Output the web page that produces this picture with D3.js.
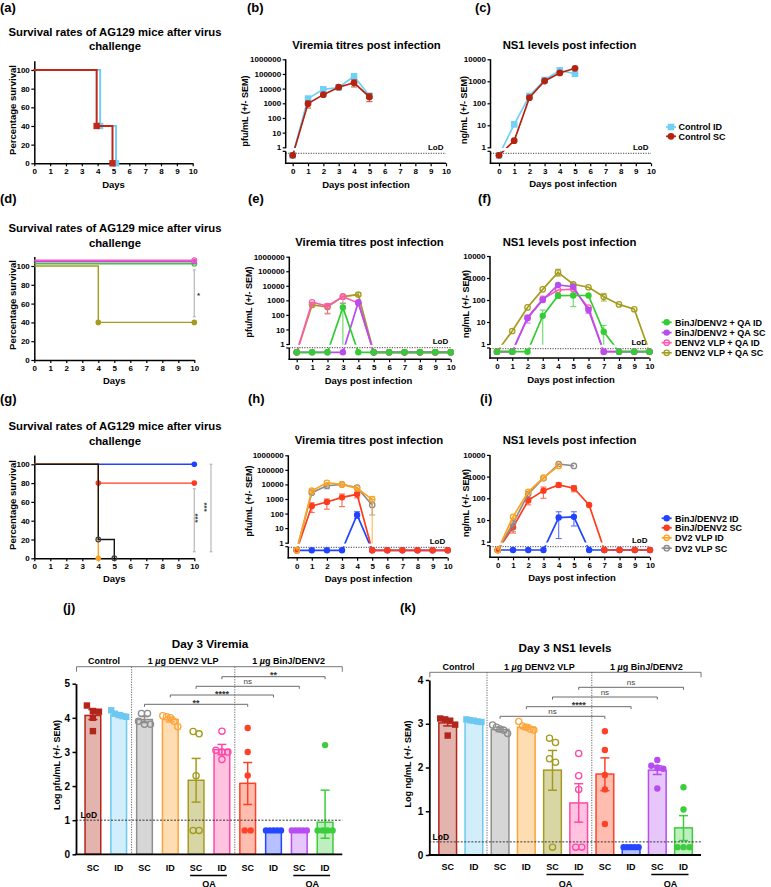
<!DOCTYPE html>
<html><head><meta charset="utf-8">
<script src="https://cdn.jsdelivr.net/npm/d3@7"></script>
<style>body{margin:0;background:#fff;overflow:hidden}</style>
</head><body><script>
// ================= DATA =================
const dayTicks = [0,1,2,3,4,5,6,7,8,9,10];
// 0 = below limit of detection (plotted under the axis break)

// (a) survival, control groups
const survA_ID_days = [0, 4, 5];
const survA_ID_pct  = [100, 40, 0];
const survA_SC_days = [0, 4, 5];
const survA_SC_pct  = [100, 40, 0];

// (b) viremia pfu/mL, days 0-5
const virB_ID    = [0, 2100, 9000, 12000, 70000, 3300];
const virB_SC    = [0, 950, 3900, 12500, 25000, 2700];
const virB_SC_lo = [null, 480, null, null, 13000, 1300];
const virB_SC_hi = [null, 1400, null, null, 40000, 4500];

// (c) NS1 ng/mL, days 0-5
const ns1C_ID = [0, 11, 215, 1150, 3150, 2200];
const ns1C_SC = [0, 2, 180, 1030, 2400, 3900];

// (d) survival, QA-adjuvanted groups
const survD_BinJ_QA_ID_days = [0, 10], survD_BinJ_QA_ID_pct = [100, 100];
const survD_BinJ_QA_SC_days = [0, 10], survD_BinJ_QA_SC_pct = [100, 100];
const survD_VLP_QA_ID_days  = [0, 10], survD_VLP_QA_ID_pct  = [100, 100];
const survD_VLP_QA_SC_days  = [0, 4, 10], survD_VLP_QA_SC_pct = [100, 40, 40];

// (e) viremia pfu/mL, days 0-10
const virE_BinJ_QA_ID = [0,0,0,330,0,0,0,0,0,0,0];
const virE_BinJ_QA_ID_lo = [null,null,null,0];
const virE_BinJ_QA_ID_hi = [null,null,null,620];
const virE_BinJ_QA_SC = [0,0,0,0,740,0,0,0,0,0,0];
const virE_BinJ_QA_SC_lo = [null,null,null,null,600];
const virE_BinJ_QA_SC_hi = [null,null,null,null,900];
const virE_VLP_QA_ID = [0,740,410,1800,650,0,0,0,0,0,0];
const virE_VLP_QA_ID_lo = [null,null,115,650];
const virE_VLP_QA_ID_hi = [null,null,550,2200];
const virE_VLP_QA_SC = [0,480,350,1800,2500,0,0,0,0,0,0];
const virE_VLP_QA_SC_lo = [null,380,130,null,2000];
const virE_VLP_QA_SC_hi = [null,650,600,null,3300];

// (f) NS1 ng/mL, days 0-10
const ns1F_BinJ_QA_ID = [0,0,0,19,157,160,160,3.6,0,0,0];
const ns1F_BinJ_QA_ID_lo = [null,null,null,0,120,50,null,0];
const ns1F_BinJ_QA_ID_hi = [null,null,null,35,190,200,null,7];
const ns1F_BinJ_QA_SC = [0,0,15,100,480,400,35,0,0,0,0];
const ns1F_BinJ_QA_SC_lo = [null,null,9,null,null,null,25];
const ns1F_BinJ_QA_SC_hi = [null,null,20,null,null,null,45];
const ns1F_VLP_QA_ID = [0,0,16,110,285,315,45,0,0,0,0];
const ns1F_VLP_QA_ID_lo = [null,null,null,80];
const ns1F_VLP_QA_ID_hi = [null,null,null,150];
const ns1F_VLP_QA_SC = [0,3.9,46,305,1800,520,380,140,63,38,0];
const ns1F_VLP_QA_SC_lo = [null,null,null,null,1200,150,null,90];
const ns1F_VLP_QA_SC_hi = [null,null,null,null,2500,600,null,200];

// (g) survival, BinJ/DENV2 vs DV2 VLP
const survG_BinJ_ID_days = [0, 10],    survG_BinJ_ID_pct = [100, 100];
const survG_BinJ_SC_days = [0, 4, 10], survG_BinJ_SC_pct = [100, 80, 80];
const survG_VLP_ID_days  = [0, 4],     survG_VLP_ID_pct  = [100, 0];
const survG_VLP_SC_days  = [0, 4, 5],  survG_VLP_SC_pct  = [100, 20, 0];

// (h) viremia pfu/mL
const virH_BinJ_ID = [0,0,0,0,80,0,0,0,0,0,0];
const virH_BinJ_ID_lo = [null,null,null,null,47];
const virH_BinJ_ID_hi = [null,null,null,null,135];
const virH_BinJ_SC = [0,330,620,1300,2100,0,0,0,0,0,0];
const virH_BinJ_SC_lo = [null,120,200,300,1200];
const virH_BinJ_SC_hi = [null,550,1000,2200,3000];
const virH_VLP_SC = [0,2700,8100,10000,6000,390];
const virH_VLP_SC_lo = [null,null,5000,null,null,80];
const virH_VLP_SC_hi = [null,null,10000,null,null,900];
const virH_VLP_ID = [0,3700,13000,10000,5400,950];
const virH_VLP_ID_lo = [null,null,null,null,null,0];
const virH_VLP_ID_hi = [null,null,null,null,null,1500];

// (i) NS1 ng/mL
const ns1I_BinJ_ID = [0,0,0,0,13,14,0,0,0,0,0];
const ns1I_BinJ_ID_lo = [null,null,null,null,1.4,5.3];
const ns1I_BinJ_ID_hi = [null,null,null,null,24,24];
const ns1I_BinJ_SC = [0,4.6,80,225,410,290,49,0,0,0,0];
const ns1I_BinJ_SC_lo = [null,2.5,50,100,330,200];
const ns1I_BinJ_SC_hi = [null,7,110,330,510,380];
const ns1I_VLP_SC = [0,7,160,840,3800,3100];
const ns1I_VLP_SC_lo = [null,3];
const ns1I_VLP_SC_hi = [null,12];
const ns1I_VLP_ID = [0,14,200,890,3100];

// (j) Day 3 viremia (log pfu/mL)
const barCats = ['SC','ID','SC','ID','SC','ID','SC','ID','SC','ID'];
const groupNames = ['Control', '1 µg DENV2 VLP', '1 µg BinJ/DENV2'];
const vir3Mean = [4.07, 4.10, 3.95, 3.95, 2.17, 3.07, 2.08, 0.70, 0.70, 0.94];
const vir3Lo   = [3.95, 4.05, 3.86, 3.88, 1.53, 2.92, 1.46, 0.70, 0.70, 0.47];
const vir3Hi   = [4.24, 4.15, 4.04, 4.02, 2.81, 3.22, 2.69, 0.70, 0.70, 1.88];
const vir3Pts  = [
  [4.36, 4.20, 4.18, 4.00, 3.61],
  [4.22, 4.12, 4.08, 4.05, 4.03],
  [4.13, 4.13, 3.90, 3.81, 3.81],
  [4.06, 4.03, 4.00, 3.90, 3.74],
  [3.60, 3.53, 2.30, 0.70, 0.70],
  [3.61, 3.05, 3.00, 3.00, 2.78],
  [3.70, 3.00, 2.31, 0.70, 0.70],
  [0.70, 0.70, 0.70, 0.70, 0.70],
  [0.70, 0.70, 0.70, 0.70, 0.70],
  [3.20, 0.70, 0.70, 0.70, 0.70]
];
const vir3Sig = [[5, 9, '**'], [4, 8, 'ns'], [3, 7, '****'], [2, 6, '**']];
const vir3LoD = 1;

// (k) Day 3 NS1 (log ng/mL)
const ns13Mean = [3.02, 3.07, 2.87, 2.92, 1.94, 1.19, 1.85, 0.18, 1.94, 0.62];
const ns13Lo   = [2.95, 3.03, 2.82, 2.87, 1.48, 0.75, 1.47, 0.18, 1.84, 0.33];
const ns13Hi   = [3.10, 3.10, 2.92, 2.97, 2.39, 1.63, 2.22, 0.18, 2.04, 0.90];
const ns13Pts  = [
  [3.12, 3.10, 3.07, 2.98, 2.73],
  [3.10, 3.08, 3.07, 3.05, 3.04],
  [2.97, 2.92, 2.88, 2.85, 2.78],
  [3.05, 2.95, 2.92, 2.88, 2.86],
  [2.67, 2.57, 2.20, 2.12, 0.18],
  [2.32, 1.81, 1.50, 0.18, 0.18],
  [2.83, 2.40, 1.83, 1.50, 0.71],
  [0.18, 0.18, 0.18, 0.18, 0.18],
  [2.17, 2.04, 2.00, 1.97, 1.52],
  [1.55, 1.04, 0.18, 0.18, 0.18]
];
const ns13Sig = [[5, 9, 'ns'], [4, 8, 'ns'], [3, 7, '****'], [2, 6, 'ns']];
const ns13LoD = 0.3;

// ================= STYLE =================
const F = '"Liberation Sans", Arial, Helvetica, sans-serif';
const C = {
  ctlID: '#72cff5', ctlSC: '#b3230f',
  green: '#33cc33', purple: '#b84cf0', pink: '#ff5aae', olive: '#a59c1f',
  blue: '#2142ff', red: '#ff3b1d', orange: '#ffa31f', gray: '#8c8c8c', black: '#141414'
};
const barColors = ['#b3241a','#6cc8f0','#8e8e8e','#ffa43a','#a39b1f','#ff48a8','#ff4127','#2546ff','#b64cf2','#3dcc3d'];
const barFills  = ['#e3b4ad','#d3eefb','#d6d6d6','#ffddb3','#d9d6a6','#ffc3df','#ffbdb0','#b8c1ff','#e7c7f9','#bfeebf'];
const barMarks  = ['square','square','open','open','open','open','circle','circle','circle','circle'];

const svg = d3.select('body').append('svg').attr('width', 771).attr('height', 887);
svg.append('rect').attr('width', 771).attr('height', 887).attr('fill', '#fff');
const defs = svg.append('defs');

function txt(g, x, y, s, o = {}) {
  const t = g.append('text').attr('x', x).attr('y', y).text(s)
    .attr('font-family', F).attr('font-size', o.size || 8)
    .attr('font-weight', o.weight || 'bold').attr('text-anchor', o.anchor || 'start')
    .attr('fill', o.fill || '#000');
  if (o.rotate) t.attr('transform', `rotate(${o.rotate},${x},${y})`);
  return t;
}
function styleAxis(a, size) {
  a.selectAll('text').attr('font-family', F).attr('font-size', size).attr('font-weight', 'bold').attr('fill', '#000');
  a.selectAll('.tick line').attr('stroke', '#000').attr('stroke-width', 1.2);
}
function hline(g, x1, x2, y, col, w, dash) {
  const l = g.append('line').attr('x1', x1).attr('x2', x2).attr('y1', y).attr('y2', y).attr('stroke', col).attr('stroke-width', w);
  if (dash) l.attr('stroke-dasharray', dash);
  return l;
}
function vline(g, x, y1, y2, col, w, dash) {
  const l = g.append('line').attr('x1', x).attr('x2', x).attr('y1', y1).attr('y2', y2).attr('stroke', col).attr('stroke-width', w);
  if (dash) l.attr('stroke-dasharray', dash);
  return l;
}
function marker(g, type, cx, cy, color, r) {
  r = r || 3.2;
  if (type === 'square') g.append('rect').attr('x', cx - r).attr('y', cy - r).attr('width', 2 * r).attr('height', 2 * r).attr('fill', color);
  else if (type === 'circle') g.append('circle').attr('cx', cx).attr('cy', cy).attr('r', r).attr('fill', color);
  else g.append('circle').attr('cx', cx).attr('cy', cy).attr('r', r - 0.5).attr('fill', 'none').attr('stroke', color).attr('stroke-width', 1.3);
}

// ---------- panel letters ----------
[['(a)',0,11.5],['(b)',247,11.5],['(c)',475,11.5],['(d)',0,202.5],['(e)',248,202.5],['(f)',478,202.5],
 ['(g)',0,402.5],['(h)',248,402.5],['(i)',480,402.5],['(j)',63,612],['(k)',400,612]]
 .forEach(d => txt(svg, d[1], d[2], d[0], {size: 13}));

// ---------- survival panels ----------
function survPanel(c, curves, sigs) {
  const g = svg.append('g');
  const x = d3.scaleLinear().domain([0, 10]).range([c.x0, c.x10]);
  const y = d3.scaleLinear().domain([0, 110]).range([c.y0, c.y0 - (c.y0 - c.y100) * 1.1]);
  txt(g, c.titleX, c.titleY[0], 'Survival rates of AG129 mice after virus', {size: 11.3, anchor: 'middle'});
  txt(g, c.titleX, c.titleY[1], 'challenge', {size: 11.3, anchor: 'middle'});
  const ya = g.append('g').attr('transform', `translate(${c.x0},0)`)
    .call(d3.axisLeft(y).tickValues([0, 20, 40, 60, 80, 100]).tickSize(3).tickSizeOuter(0).tickPadding(1.5));
  ya.select('.domain').attr('stroke', '#000').attr('stroke-width', 1.5);
  styleAxis(ya, 8);
  const xa = g.append('g').attr('transform', `translate(0,${c.y0})`)
    .call(d3.axisBottom(x).tickValues(dayTicks).tickSize(3).tickSizeOuter(0).tickPadding(2.5));
  xa.select('.domain').attr('stroke', '#000').attr('stroke-width', 1.5);
  styleAxis(xa, 8);
  txt(g, c.ylabX, c.ylabY, 'Percentage survival', {size: 9.5, anchor: 'middle', rotate: -90});
  txt(g, (c.x0 + c.x10) / 2, c.xlabY, 'Days', {size: 9.5, anchor: 'middle'});
  curves.forEach(cv => {
    const pts = cv.days.map((d, i) => [d, cv.pct[i]]);
    g.append('path').attr('d', d3.line().x(p => x(p[0]) + cv.dx).y(p => y(p[1]) + cv.dy).curve(d3.curveStepAfter)(pts))
      .attr('fill', 'none').attr('stroke', cv.color).attr('stroke-width', cv.w || 1.4);
    pts.slice(1).forEach(p => marker(g, cv.mark, x(p[0]) + cv.dx, y(p[1]) + cv.dy, cv.mcolor || cv.color, cv.r || 2.8));
  });
  (sigs || []).forEach(s => {
    const xx = s.x, y1 = y(s.from), y2 = y(s.to);
    vline(g, xx, y1, y2, '#bdbdbd', 1.3);
    hline(g, xx - 1.5, xx + 1.5, y1, '#bdbdbd', 1.3);
    hline(g, xx - 1.5, xx + 1.5, y2, '#bdbdbd', 1.3);
    txt(g, s.lx, s.ly, s.label, {size: 8, anchor: 'middle', fill: '#333', rotate: s.rot || 0});
  });
}

survPanel({x0: 34.3, x10: 192.7, y0: 163.3, y100: 70, titleX: 115, titleY: [35.5, 49.5], ylabX: 16, ylabY: 110, xlabY: 187.5}, [
  {days: survA_ID_days, pct: survA_ID_pct, color: C.ctlID, mark: 'square', dx: 2.5, dy: 0, w: 2, r: 3.2},
  {days: survA_SC_days, pct: survA_SC_pct, color: '#c0281a', mark: 'square', dx: -1, dy: 0, w: 2, r: 3.2}
]);

survPanel({x0: 34.3, x10: 194.3, y0: 360, y100: 266, titleX: 115, titleY: [232, 247], ylabX: 16, ylabY: 305, xlabY: 383.5}, [
  {days: survD_VLP_QA_SC_days, pct: survD_VLP_QA_SC_pct, color: C.olive, mark: 'circle', dx: 0, dy: 0},
  {days: survD_BinJ_QA_ID_days, pct: survD_BinJ_QA_ID_pct, color: C.green, mark: 'open', dx: 0, dy: -2.2},
  {days: survD_BinJ_QA_SC_days, pct: survD_BinJ_QA_SC_pct, color: C.purple, mark: 'circle', dx: 0, dy: -4.2},
  {days: survD_VLP_QA_ID_days, pct: survD_VLP_QA_ID_pct, color: C.pink, mark: 'open', dx: 0, dy: -5.8}
], [{x: 194.3, from: 96, to: 46, label: '*', lx: 198.5, ly: 298}]);

survPanel({x0: 34.3, x10: 194.3, y0: 558.3, y100: 464.3, titleX: 115, titleY: [430, 444.5], ylabX: 16, ylabY: 505, xlabY: 581.5}, [
  {days: survG_BinJ_ID_days, pct: survG_BinJ_ID_pct, color: C.blue, mark: 'circle', dx: 0, dy: 0},
  {days: survG_BinJ_SC_days, pct: survG_BinJ_SC_pct, color: C.red, mark: 'circle', dx: 0, dy: 0},
  {days: survG_VLP_ID_days, pct: survG_VLP_ID_pct, color: C.orange, mark: 'circle', dx: 0, dy: 0},
  {days: survG_VLP_SC_days, pct: survG_VLP_SC_pct, color: C.black, mark: 'open', mcolor: '#444', dx: 0, dy: 0}
], [
  {x: 194.3, from: 74, to: 7, label: '***', lx: 199.5, ly: 518, rot: -90},
  {x: 211, from: 100, to: 7, label: '***', lx: 208.5, ly: 507, rot: -90}
]);

// ---------- log-scale time-course panels ----------
function linePanel(c, series, leg) {
  const g = svg.append('g');
  const x = d3.scaleLinear().domain([0, 10]).range([c.x0, c.x10]);
  const y = d3.scaleLog().domain([1, Math.pow(10, c.maxDec)]).range([c.y1, c.yTop]);
  const py = v => v > 0 ? y(v) : c.nd;
  defs.append('clipPath').attr('id', 'cu' + c.id).append('rect')
    .attr('x', c.axX + 0.8).attr('y', c.yTop - 20).attr('width', c.x10 - c.axX + 12).attr('height', c.y1 + 0.8 - (c.yTop - 20));
  defs.append('clipPath').attr('id', 'cl' + c.id).append('rect')
    .attr('x', c.axX + 0.8).attr('y', c.y1 + 3.5).attr('width', c.x10 - c.axX + 12).attr('height', c.xAxY - c.y1 - 3.5);
  txt(g, c.titleX, c.titleY, c.title, {size: 11.3, anchor: 'middle'});
  // LoD
  hline(g, c.axX, c.x10, c.lod, '#444', 1, '1.2,1.3');
  txt(g, c.x10 - 2.5, c.lod - 3.8, 'LoD', {size: 8, anchor: 'end'});
  // y axis
  const decades = d3.range(0, c.maxDec + 1).map(k => Math.pow(10, k));
  const ya = g.append('g').attr('transform', `translate(${c.axX},0)`)
    .call(d3.axisLeft(y).tickValues(decades).tickFormat(d3.format('d')).tickSize(3).tickPadding(1.5));
  ya.select('.domain').remove();
  styleAxis(ya, 8);
  vline(g, c.axX, c.yTop, c.y1 + 1, '#000', 1.5);
  vline(g, c.axX, c.y1 + 4, c.xAxY + 0.75, '#000', 1.5);
  hline(g, c.axX - 3, c.axX, c.y1 + 4, '#000', 1.2);
  // x axis
  const xa = g.append('g').attr('transform', `translate(0,${c.xAxY})`)
    .call(d3.axisBottom(x).tickValues(dayTicks).tickSize(3).tickSizeOuter(0).tickPadding(2.5));
  xa.select('.domain').remove();
  styleAxis(xa, 8);
  hline(g, c.axX - 0.75, c.x10, c.xAxY, '#000', 1.5);
  txt(g, c.ylabX, c.ylabY, c.ylab, {size: 9, anchor: 'middle', rotate: -90});
  txt(g, c.xlabX, c.xlabY, 'Days post infection', {size: 9.5, anchor: 'middle'});
  // series
  series.forEach(s => {
    const pts = s.values.map((v, i) => ({d: i, v}));
    const line = d3.line().x(p => x(p.d)).y(p => py(p.v));
    ['cu', 'cl'].forEach(k => g.append('path').attr('d', line(pts)).attr('clip-path', `url(#${k}${c.id})`)
      .attr('fill', 'none').attr('stroke', s.color).attr('stroke-width', 1.7));
    if (s.lo) s.lo.forEach((lo, i) => {
      if (lo == null) return;
      const hi = s.hi[i];
      const yl = lo > 0 ? y(lo) : c.y1 + 1, yh = y(hi), xx = x(i);
      const eg = g.append('g').attr('clip-path', `url(#cu${c.id})`).attr('opacity', 0.75);
      vline(eg, xx, yl, yh, s.color, 1.1);
      hline(eg, xx - 3, xx + 3, yh, s.color, 1.1);
      if (lo > 0) hline(eg, xx - 3, xx + 3, yl, s.color, 1.1);
    });
    pts.forEach(p => marker(g, s.mark, x(p.d), py(p.v), s.color, s.r || 3.2));
  });
  if (leg) {
    leg.items.forEach((s, i) => {
      const yy = leg.ys[i];
      hline(g, leg.x - 5, leg.x + 5, yy, s.color, 1.7);
      marker(g, s.mark, leg.x, yy, s.color, s.r || 3.2);
      txt(g, leg.x + leg.dx, yy + 3.3, s.name, {size: 9});
    });
  }
}

const sB = [
  {name: 'Control ID', values: virB_ID, color: C.ctlID, mark: 'square', r: 3.3},
  {name: 'Control SC', values: virB_SC, lo: virB_SC_lo, hi: virB_SC_hi, color: C.ctlSC, mark: 'circle', r: 3.4}
];
linePanel({id: 'b', axX: 285.7, x0: 292.7, x10: 446, yTop: 59.3, y1: 147.3, lod: 153.3, nd: 155.3, xAxY: 163.3, maxDec: 6,
  title: 'Viremia titres post infection', titleX: 366.5, titleY: 48.5, ylab: 'pfu/mL (+/- SEM)', ylabX: 247.5, ylabY: 111, xlabX: 366, xlabY: 187.5}, sB);
const sC = [
  {name: 'Control ID', values: ns1C_ID, color: C.ctlID, mark: 'square', r: 3.3},
  {name: 'Control SC', values: ns1C_SC, color: C.ctlSC, mark: 'circle', r: 3.4}
];
linePanel({id: 'c', axX: 490.5, x0: 499, x10: 651, yTop: 59.3, y1: 147.3, lod: 153.3, nd: 155.3, xAxY: 163.3, maxDec: 4,
  title: 'NS1 levels post infection', titleX: 569.5, titleY: 48.5, ylab: 'ng/mL (+/- SEM)', ylabX: 467, ylabY: 110, xlabX: 573, xlabY: 187}, sC,
  {items: sC, x: 671, dx: 7.5, ys: [127, 136.3]});

const sE = [
  {name: 'DENV2 VLP + QA SC', values: virE_VLP_QA_SC, lo: virE_VLP_QA_SC_lo, hi: virE_VLP_QA_SC_hi, color: C.olive, mark: 'open'},
  {name: 'DENV2 VLP + QA ID', values: virE_VLP_QA_ID, lo: virE_VLP_QA_ID_lo, hi: virE_VLP_QA_ID_hi, color: C.pink, mark: 'open'},
  {name: 'BinJ/DENV2 + QA SC', values: virE_BinJ_QA_SC, lo: virE_BinJ_QA_SC_lo, hi: virE_BinJ_QA_SC_hi, color: C.purple, mark: 'circle'},
  {name: 'BinJ/DENV2 + QA ID', values: virE_BinJ_QA_ID, lo: virE_BinJ_QA_ID_lo, hi: virE_BinJ_QA_ID_hi, color: C.green, mark: 'circle'}
];
linePanel({id: 'e', axX: 289.3, x0: 296.7, x10: 450.7, yTop: 256.7, y1: 344, lod: 347.7, nd: 352.3, xAxY: 359.3, maxDec: 6,
  title: 'Viremia titres post infection', titleX: 369.5, titleY: 246, ylab: 'pfu/mL (+/- SEM)', ylabX: 252, ylabY: 302, xlabX: 368.5, xlabY: 383.5}, sE);
const sF = [
  {name: 'DENV2 VLP + QA SC', values: ns1F_VLP_QA_SC, lo: ns1F_VLP_QA_SC_lo, hi: ns1F_VLP_QA_SC_hi, color: C.olive, mark: 'open'},
  {name: 'DENV2 VLP + QA ID', values: ns1F_VLP_QA_ID, lo: ns1F_VLP_QA_ID_lo, hi: ns1F_VLP_QA_ID_hi, color: C.pink, mark: 'open'},
  {name: 'BinJ/DENV2 + QA SC', values: ns1F_BinJ_QA_SC, lo: ns1F_BinJ_QA_SC_lo, hi: ns1F_BinJ_QA_SC_hi, color: C.purple, mark: 'circle'},
  {name: 'BinJ/DENV2 + QA ID', values: ns1F_BinJ_QA_ID, lo: ns1F_BinJ_QA_ID_lo, hi: ns1F_BinJ_QA_ID_hi, color: C.green, mark: 'circle'}
];
linePanel({id: 'f', axX: 490, x0: 497, x10: 649.5, yTop: 256, y1: 344, lod: 348.7, nd: 351.7, xAxY: 358, maxDec: 4,
  title: 'NS1 levels post infection', titleX: 569.5, titleY: 246, ylab: 'ng/mL (+/- SEM)', ylabX: 468.5, ylabY: 304, xlabX: 571, xlabY: 382.5}, sF,
  {items: sF.slice().reverse(), x: 666.7, dx: 8.3, ys: [322.3, 332.6, 342.7, 352.8]});

const sH = [
  {name: 'BinJ/DENV2 ID', values: virH_BinJ_ID, lo: virH_BinJ_ID_lo, hi: virH_BinJ_ID_hi, color: C.blue, mark: 'circle'},
  {name: 'BinJ/DENV2 SC', values: virH_BinJ_SC, lo: virH_BinJ_SC_lo, hi: virH_BinJ_SC_hi, color: C.red, mark: 'circle'},
  {name: 'DV2 VLP SC', values: virH_VLP_SC, lo: virH_VLP_SC_lo, hi: virH_VLP_SC_hi, color: C.gray, mark: 'open'},
  {name: 'DV2 VLP ID', values: virH_VLP_ID, lo: virH_VLP_ID_lo, hi: virH_VLP_ID_hi, color: C.orange, mark: 'open'}
];
linePanel({id: 'h', axX: 288.3, x0: 296.7, x10: 447.7, yTop: 455.3, y1: 542.7, lod: 547.3, nd: 550.3, xAxY: 557.7, maxDec: 6,
  title: 'Viremia titres post infection', titleX: 369, titleY: 443.5, ylab: 'pfu/mL (+/- SEM)', ylabX: 252, ylabY: 501, xlabX: 368.5, xlabY: 581.5}, sH);
const sI = [
  {name: 'BinJ/DENV2 ID', values: ns1I_BinJ_ID, lo: ns1I_BinJ_ID_lo, hi: ns1I_BinJ_ID_hi, color: C.blue, mark: 'circle'},
  {name: 'BinJ/DENV2 SC', values: ns1I_BinJ_SC, lo: ns1I_BinJ_SC_lo, hi: ns1I_BinJ_SC_hi, color: C.red, mark: 'circle'},
  {name: 'DV2 VLP SC', values: ns1I_VLP_SC, lo: ns1I_VLP_SC_lo, hi: ns1I_VLP_SC_hi, color: C.gray, mark: 'open'},
  {name: 'DV2 VLP ID', values: ns1I_VLP_ID, color: C.orange, mark: 'open'}
];
linePanel({id: 'i', axX: 490, x0: 497.8, x10: 650, yTop: 454.9, y1: 541.7, lod: 546.7, nd: 550, xAxY: 557.3, maxDec: 4,
  title: 'NS1 levels post infection', titleX: 569.5, titleY: 443.5, ylab: 'ng/mL (+/- SEM)', ylabX: 468.5, ylabY: 503, xlabX: 572, xlabY: 580.5}, sI,
  {items: [sI[0], sI[1], sI[3], sI[2]], x: 666.7, dx: 8.3, ys: [518.3, 527.8, 537.8, 548.2]});

// ---------- bar panels ----------
function jitter(vals, y) {
  const idx = vals.map((v, i) => i).sort((a, b) => vals[b] - vals[a]);
  const out = new Array(vals.length).fill(0);
  let cl = [];
  const flush = () => {
    const n = cl.length, sp = n > 1 ? Math.min(6, 15 / (n - 1)) : 0;
    cl.forEach((k, j) => out[k] = (j - (n - 1) / 2) * sp);
    cl = [];
  };
  idx.forEach(i => {
    if (cl.length && Math.abs(y(vals[cl[cl.length - 1]]) - y(vals[i])) >= 5.5) flush();
    cl.push(i);
  });
  flush();
  return out;
}
function groupLabel(g, x, y, s) {
  const t = g.append('text').attr('x', x).attr('y', y).attr('text-anchor', 'middle')
    .attr('font-family', F).attr('font-size', 9).attr('font-weight', 'bold');
  const m = s.indexOf('µ');
  if (m < 0) t.text(s);
  else {
    t.append('tspan').text(s.slice(0, m));
    t.append('tspan').attr('font-style', 'italic').text('µ');
    t.append('tspan').text(s.slice(m + 1));
  }
}
function barPanel(c, means, lo, hi, pts, sig, lod) {
  const g = svg.append('g');
  const xb = d3.scaleBand().domain(d3.range(means.length)).range(c.band).padding(0);
  const cx = i => xb(i) + xb.bandwidth() / 2;
  const y = d3.scaleLinear().domain([0, c.ymax]).range([c.y0, c.yTop]);
  txt(g, c.titleX, c.titleY, c.title, {size: 11.7, anchor: 'middle'});
  // group bracket
  const bounds = [c.axX + 0.5, xb(2), xb(6), c.xEnd];
  hline(g, bounds[0], bounds[3], c.bracketY, '#777', 1);
  vline(g, bounds[0], c.bracketY, c.bracketY + 5, '#777', 1);
  vline(g, bounds[3], c.bracketY, c.bracketY + 5, '#777', 1);
  vline(g, bounds[1], c.bracketY, c.y0, '#666', 1, '1.2,1.3');
  vline(g, bounds[2], c.bracketY, c.y0, '#666', 1, '1.2,1.3');
  groupNames.forEach((s, k) => groupLabel(g, (bounds[k] + bounds[k + 1]) / 2, c.groupY, s));
  // bars
  means.forEach((m, i) => {
    g.append('rect').attr('x', cx(i) - c.barW / 2).attr('y', y(m)).attr('width', c.barW).attr('height', y(0) - y(m))
      .attr('fill', barFills[i]).attr('stroke', barColors[i]).attr('stroke-width', 1.5);
  });
  // error bars
  means.forEach((m, i) => {
    if (hi[i] - lo[i] < 0.005) return;
    vline(g, cx(i), y(lo[i]), y(hi[i]), barColors[i], 1.5);
    hline(g, cx(i) - 4.5, cx(i) + 4.5, y(hi[i]), barColors[i], 1.5);
    hline(g, cx(i) - 4.5, cx(i) + 4.5, y(lo[i]), barColors[i], 1.5);
  });
  // LoD
  hline(g, c.axX, c.xEnd, y(lod), '#333', 1, '2,1.5');
  txt(g, c.lodX, y(lod) - 2, 'LoD', {size: 8.5});
  // points
  pts.forEach((vals, i) => {
    const off = jitter(vals, y);
    vals.forEach((v, k) => marker(g, barMarks[i], cx(i) + off[k], y(v), barColors[i], barMarks[i] === 'open' ? 3.6 : 3.2));
  });
  // axes
  const ya = g.append('g').attr('transform', `translate(${c.axX},0)`)
    .call(d3.axisLeft(y).tickValues(d3.range(0, c.ymax + 1)).tickFormat(d3.format('d')).tickSize(3.5).tickSizeOuter(0).tickPadding(2.5));
  ya.select('.domain').attr('stroke', '#000').attr('stroke-width', 1.8);
  styleAxis(ya, 10);
  ya.selectAll('.tick line').attr('stroke-width', 1.5);
  hline(g, c.axX - 0.9, c.xEnd, c.y0, '#000', 1.8);
  txt(g, c.ylabX, c.ylabY, c.ylab, {size: 9, anchor: 'middle', rotate: -90});
  // categories
  barCats.forEach((s, i) => txt(g, cx(i), c.catY, s, {size: 9, anchor: 'middle'}));
  [[4, 5], [8, 9]].forEach(([a, b]) => {
    hline(g, cx(a) - 6, cx(b) + 5, c.qaLineY, '#000', 1.3);
    txt(g, (cx(a) + cx(b)) / 2, c.qaY, 'QA', {size: 9, anchor: 'middle'});
  });
  // significance
  sig.forEach(([a, b, lab], k) => {
    const yy = c.sigY[k];
    hline(g, cx(a), cx(b), yy, '#6a6a6a', 1);
    vline(g, cx(a), yy, yy + 2.5, '#6a6a6a', 1);
    vline(g, cx(b), yy, yy + 2.5, '#6a6a6a', 1);
    if (lab === 'ns') txt(g, (cx(a) + cx(b)) / 2, yy - 2, lab, {size: 8, anchor: 'middle', weight: 'normal', fill: '#444'});
    else txt(g, (cx(a) + cx(b)) / 2, yy + 1.5, lab, {size: 9, anchor: 'middle', fill: '#333'});
  });
}

barPanel({axX: 76, xEnd: 342.3, y0: 854.3, yTop: 683.7, ymax: 5, band: [80, 338], barW: 15.7,
  title: 'Day 3 Viremia', titleX: 210, titleY: 647.5, groupY: 664.3, bracketY: 666.7,
  sigY: [676.7, 686.3, 695, 704.3], lodX: 80.5, catY: 871, qaLineY: 875.5, qaY: 886.5,
  ylab: 'Log pfu/mL (+/- SEM)', ylabX: 59.5, ylabY: 765}, vir3Mean, vir3Lo, vir3Hi, vir3Pts, vir3Sig, vir3LoD);

barPanel({axX: 429.3, xEnd: 701, y0: 855, yTop: 680, ymax: 4, band: [434.6, 696.6], barW: 17.7,
  title: 'Day 3 NS1 levels', titleX: 565, titleY: 651.5, groupY: 670, bracketY: 672.3,
  sigY: [687.3, 697, 706.7, 716.3], lodX: 432.5, catY: 869.5, qaLineY: 874.5, qaY: 886.5,
  ylab: 'Log ng/mL (+/- SEM)', ylabX: 410.5, ylabY: 764}, ns13Mean, ns13Lo, ns13Hi, ns13Pts, ns13Sig, ns13LoD);
</script></body></html>
